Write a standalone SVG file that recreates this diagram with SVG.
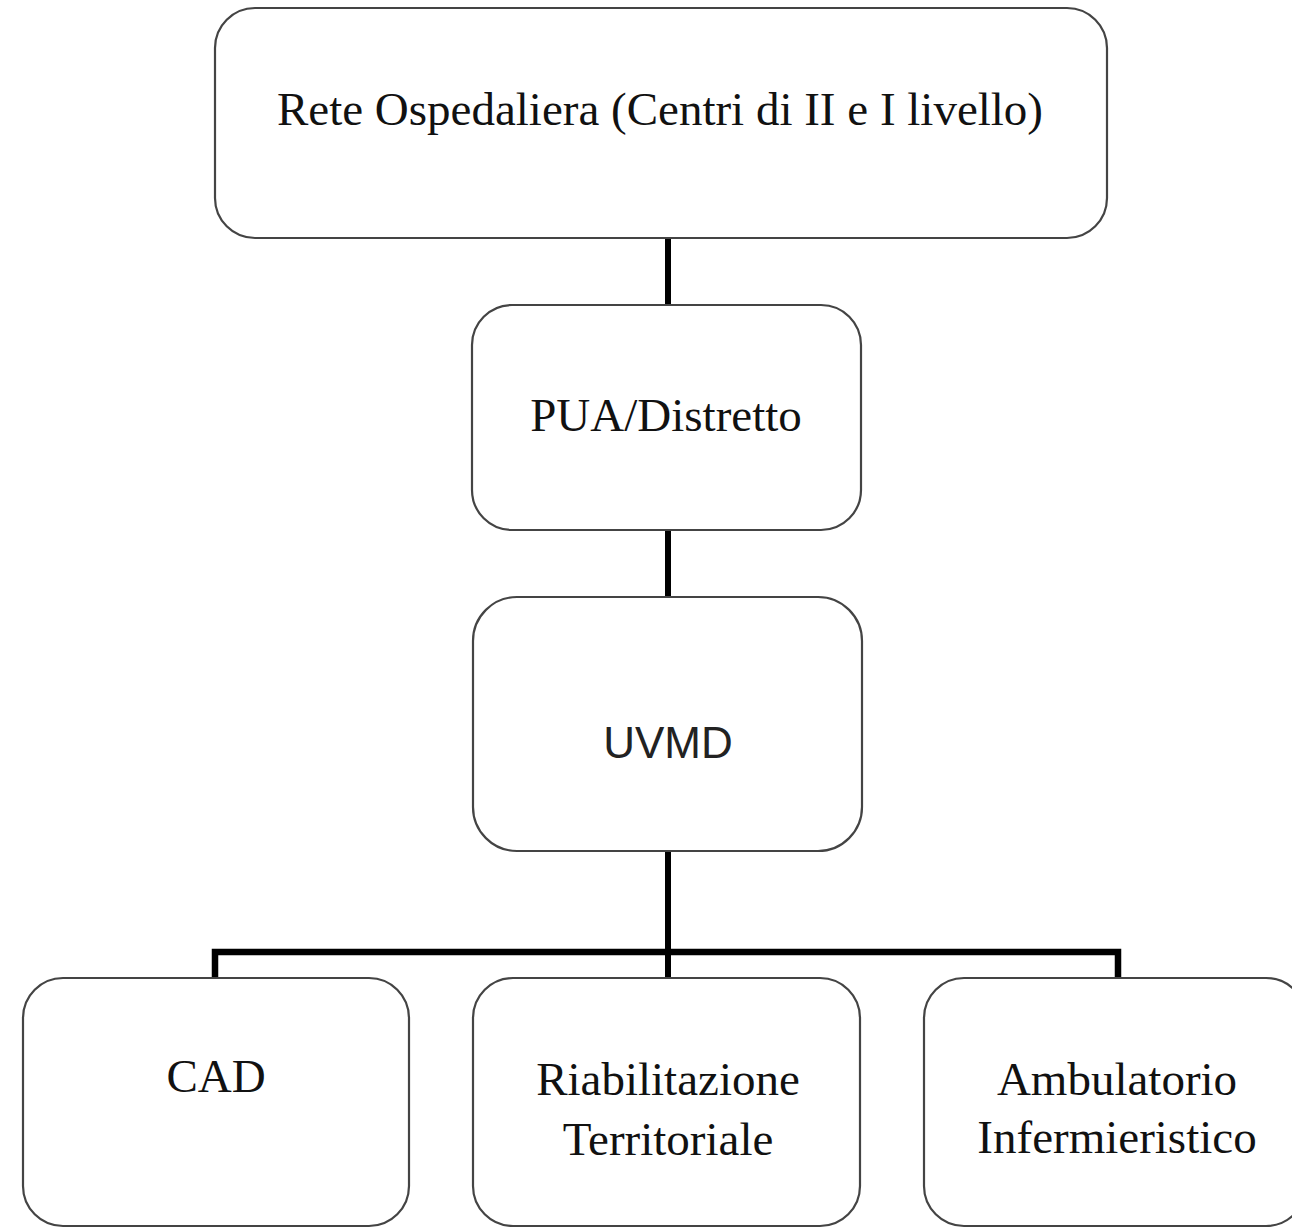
<svg xmlns="http://www.w3.org/2000/svg" width="1292" height="1229" viewBox="0 0 1292 1229">
<style>
.box{fill:#fff;stroke:#444;stroke-width:2.2}
.conn{fill:none;stroke:#000;stroke-width:6;stroke-linecap:butt;stroke-linejoin:miter}
.serif{font-family:"Liberation Serif","Times New Roman",serif;font-size:47px;fill:#111;text-anchor:middle}
.sans{font-family:"Liberation Sans",Arial,sans-serif;font-size:44px;fill:#222;text-anchor:middle}
</style>
<rect width="1292" height="1229" fill="#fff"/>
<g id="connectors">
<line class="conn" x1="668" y1="238" x2="668" y2="305"/>
<line class="conn" x1="668" y1="530" x2="668" y2="597"/>
<line class="conn" x1="668" y1="851" x2="668" y2="978"/>
<polyline class="conn" points="215,978 215,952 1118,952 1118,978" style="stroke-width:6.5"/>
</g>
<g id="rete">
<rect class="box" x="215" y="8" width="892" height="230" rx="40"/>
<text class="serif" x="660" y="125">Rete Ospedaliera (Centri di II e I livello)</text>
</g>
<g id="pua">
<rect class="box" x="472" y="305" width="389" height="225" rx="40"/>
<text class="serif" x="666" y="431">PUA/Distretto</text>
</g>
<g id="uvmd">
<rect class="box" x="473" y="597" width="389" height="254" rx="44"/>
<text class="sans" x="668" y="758">UVMD</text>
</g>
<g id="cad">
<rect class="box" x="23" y="978" width="386" height="248" rx="40"/>
<text class="serif" x="216" y="1092">CAD</text>
</g>
<g id="riabilitazione">
<rect class="box" x="473" y="978" width="387" height="248" rx="40"/>
<text class="serif" x="668" y="1095">Riabilitazione</text>
<text class="serif" x="668" y="1155">Territoriale</text>
</g>
<g id="ambulatorio">
<rect class="box" x="924" y="978" width="382" height="248" rx="40"/>
<text class="serif" x="1117" y="1095">Ambulatorio</text>
<text class="serif" x="1117" y="1153">Infermieristico</text>
</g>
</svg>
